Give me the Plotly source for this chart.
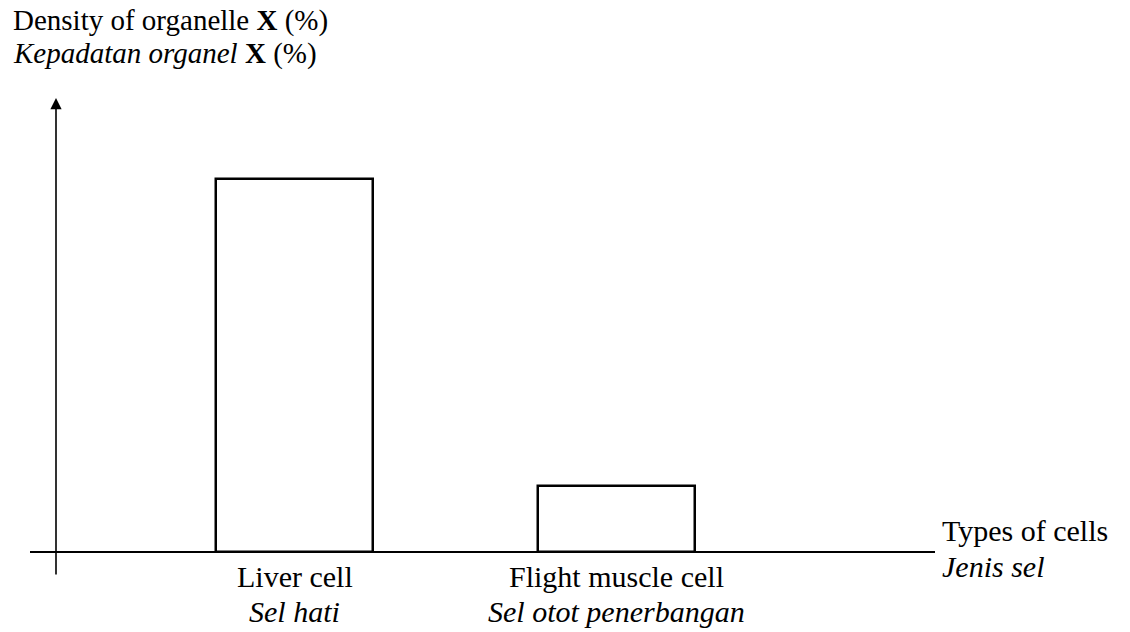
import plotly.graph_objects as go

categories = ["Liver cell", "Flight muscle cell"]
categories_ms = ["Sel hati", "Sel otot penerbangan"]
density = [85, 15]
x_title = ["Types of cells", "Jenis sel"]
y_title = ["Density of organelle <b>X</b> (%)", "<i>Kepadatan organel</i> <b>X</b> (%)"]

FONT = "Liberation Serif"
FS = 30
FS_T = 29
W, H = 1130, 632
L, R, T, B = 30, 195, 80, 57
pw = W - L - R
ph = H - T - B

xpos = list(range(len(categories)))

fig = go.Figure()
fig.add_trace(go.Bar(
    x=xpos, y=density, width=0.4876,
    marker=dict(color="white", line=dict(color="black", width=2.5)),
    hoverinfo="skip",
))

def px_x(p):
    return (p - L) / pw

def px_y(p):
    return 1 - (p - T) / ph

ann = []
# y axis arrow
ann.append(dict(xref="paper", yref="paper", x=px_x(56), y=px_y(98), ax=0, ay=576 - 98,
                text="", showarrow=True, arrowhead=2, arrowsize=1.4, arrowwidth=1.6,
                arrowcolor="black", standoff=0, startstandoff=0))
# y title
for i, t in enumerate(y_title):
    ann.append(dict(xref="paper", yref="paper", x=px_x(11), y=px_y([20, 53][i]),
                    xanchor="left", yanchor="middle", text=t, showarrow=False,
                    font=dict(family=FONT, size=FS_T, color="black")))
# category labels
for i, (c, m) in enumerate(zip(categories, categories_ms)):
    ann.append(dict(xref="x", yref="paper", x=xpos[i], y=px_y(576), xanchor="center",
                    yanchor="middle", text=c, showarrow=False,
                    font=dict(family=FONT, size=FS, color="black")))
    ann.append(dict(xref="x", yref="paper", x=xpos[i], y=px_y(611), xanchor="center",
                    yanchor="middle", text="<i>" + m + "</i>", showarrow=False,
                    font=dict(family=FONT, size=FS, color="black")))
# x title
for i, t in enumerate(x_title):
    txt = t if i == 0 else "<i>" + t + "</i>"
    ann.append(dict(xref="paper", yref="paper", x=px_x(940), y=px_y([530, 566][i]),
                    xanchor="left", yanchor="middle", text=txt, showarrow=False,
                    font=dict(family=FONT, size=FS, color="black")))

fig.update_layout(
    width=W, height=H,
    margin=dict(l=L, r=R, t=T, b=B),
    paper_bgcolor="white", plot_bgcolor="white",
    showlegend=False,
    xaxis=dict(range=[-0.8214, 1.989], showgrid=False, zeroline=False,
               showticklabels=False, showline=False, fixedrange=True),
    yaxis=dict(range=[-5.24, 107.56], showgrid=False, zeroline=True,
               zerolinecolor="black", zerolinewidth=2.2, showticklabels=False,
               showline=False, fixedrange=True),
    annotations=ann,
    bargap=0,
)

fig.write_html("out.html", config={"displayModeBar": False},
               post_script="document.body.style.margin='0';")
